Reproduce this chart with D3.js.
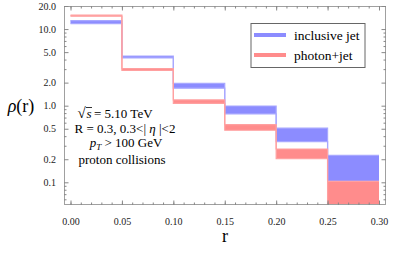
<!DOCTYPE html>
<html>
<head>
<meta charset="utf-8">
<script src="https://cdn.jsdelivr.net/npm/d3@7"></script>
<style>
  body { margin: 0; background: #fff; }
  text { font-family: "Liberation Serif", "Times New Roman", serif; }
</style>
</head>
<body>
<div></div>
<script>
// bin edges in r
const binEdges = [0, 0.05, 0.10, 0.15, 0.20, 0.25, 0.30]
// inclusive jet band (low / high)
const inclusiveLow = [11.8, 4.2, 1.69, 0.78, 0.34, 0.103]
const inclusiveHigh = [12.9, 4.45, 1.96, 0.99, 0.51, 0.225]
// photon+jet band (low / high)
const photonLow = [14.7, 2.88, 1.07, 0.478, 0.203, 0.03]
const photonHigh = [15.2, 3.04, 1.19, 0.565, 0.272, 0.103]

const xTicks = [0, 0.05, 0.10, 0.15, 0.20, 0.25, 0.30]
const xTickLabels = ['0.00', '0.05', '0.10', '0.15', '0.20', '0.25', '0.30']
const yTicks = [0.1, 0.2, 0.5, 1, 2, 5, 10, 20]
const yTickLabels = ['0.1', '0.2', '0.5', '1.0', '2.0', '5.0', '10.0', '20.0']
const yMinorTicks = [0.06, 0.07, 0.08, 0.09, 0.3, 0.4, 0.6, 0.7, 0.8, 0.9, 3, 4, 6, 7, 8, 9]

const seriesNames = ['inclusive jet', 'photon+jet']

const width = 407
const height = 254
const frame = { left: 64, right: 386, top: 6, bottom: 205 }

const blueFill = '#8c8cff'
const blueEdge = '#a8a8ff'
const redFill = '#ff8c8c'
const redEdge = '#ffa0a0'
const frameColor = '#a0a0a0'

const svg = d3.select('div')
  .append('svg')
  .attr('width', width)
  .attr('height', height)
  .attr('font-family', '"Liberation Serif", serif')

const x = d3.scaleLinear()
  .domain([0, 0.30])
  .range([70.5, 379])

const y = d3.scaleLog()
  .domain([0.1, 20])
  .range([182.3, 6])

svg.append('clipPath')
  .attr('id', 'plot-clip')
  .append('rect')
  .attr('x', frame.left)
  .attr('y', frame.top)
  .attr('width', frame.right - frame.left)
  .attr('height', frame.bottom - frame.top)

// step data: last point repeats last bin value at the right edge
function stepData(lo, hi) {
  const pts = lo.map((v, i) => ({ r: binEdges[i], lo: v, hi: hi[i] }))
  pts.push({ r: binEdges[binEdges.length - 1], lo: lo[lo.length - 1], hi: hi[hi.length - 1] })
  return pts
}

const area = d3.area()
  .x(d => x(d.r))
  .y0(d => y(d.lo))
  .y1(d => y(d.hi))
  .curve(d3.curveStepAfter)

const lineHi = d3.line().x(d => x(d.r)).y(d => y(d.hi)).curve(d3.curveStepAfter)
const lineLo = d3.line().x(d => x(d.r)).y(d => y(d.lo)).curve(d3.curveStepAfter)

const plot = svg.append('g').attr('clip-path', 'url(#plot-clip)')

const series = [
  { data: stepData(inclusiveLow, inclusiveHigh), fill: blueFill, edge: blueEdge },
  { data: stepData(photonLow, photonHigh), fill: redFill, edge: redEdge }
]

series.forEach(s => {
  plot.append('path')
    .attr('d', area(s.data))
    .attr('fill', s.fill)
  plot.append('path')
    .attr('d', lineHi(s.data))
    .attr('fill', 'none')
    .attr('stroke', s.edge)
    .attr('stroke-width', 1.2)
  plot.append('path')
    .attr('d', lineLo(s.data))
    .attr('fill', 'none')
    .attr('stroke', s.edge)
    .attr('stroke-width', 1.2)
})

// frame
svg.append('rect')
  .attr('x', frame.left + 0.5)
  .attr('y', frame.top + 0.5)
  .attr('width', frame.right - frame.left - 1)
  .attr('height', frame.bottom - frame.top - 1)
  .attr('fill', 'none')
  .attr('stroke', frameColor)
  .attr('stroke-width', 1)

// axes with inward ticks
const xMinor = d3.range(0, 0.3005, 0.01)

function styleAxis(g) {
  g.attr('font-family', null)
  g.select('.domain').remove()
  g.selectAll('line').attr('stroke', '#888')
  g.selectAll('text')
    .attr('fill', '#222')
    .style('font-size', '10px')
    .style('font-family', '"Liberation Serif", serif')
}

// bottom
svg.append('g')
  .attr('transform', `translate(0, ${frame.bottom})`)
  .call(d3.axisBottom(x).tickValues(xMinor).tickSize(-2.5).tickFormat(''))
  .call(styleAxis)
svg.append('g')
  .attr('transform', `translate(0, ${frame.bottom})`)
  .call(d3.axisBottom(x).tickValues(xTicks).tickSize(-4.5).tickPadding(13)
    .tickFormat((d, i) => xTickLabels[i]))
  .call(styleAxis)

// top
svg.append('g')
  .attr('transform', `translate(0, ${frame.top})`)
  .call(d3.axisTop(x).tickValues(xMinor).tickSize(-2.5).tickFormat(''))
  .call(styleAxis)
svg.append('g')
  .attr('transform', `translate(0, ${frame.top})`)
  .call(d3.axisTop(x).tickValues(xTicks).tickSize(-4.5).tickFormat(''))
  .call(styleAxis)

// left
svg.append('g')
  .attr('transform', `translate(${frame.left}, 0)`)
  .call(d3.axisLeft(y).tickValues(yMinorTicks).tickSize(-2.5).tickFormat(''))
  .call(styleAxis)
svg.append('g')
  .attr('transform', `translate(${frame.left}, 0)`)
  .call(d3.axisLeft(y).tickValues(yTicks).tickSize(-4.5).tickPadding(8)
    .tickFormat((d, i) => yTickLabels[i]))
  .call(styleAxis)

// right
svg.append('g')
  .attr('transform', `translate(${frame.right}, 0)`)
  .call(d3.axisRight(y).tickValues(yMinorTicks).tickSize(-2.5).tickFormat(''))
  .call(styleAxis)
svg.append('g')
  .attr('transform', `translate(${frame.right}, 0)`)
  .call(d3.axisRight(y).tickValues(yTicks).tickSize(-4.5).tickFormat(''))
  .call(styleAxis)

// axis labels
svg.append('text')
  .attr('x', 21)
  .attr('y', 112)
  .attr('text-anchor', 'middle')
  .style('font-size', '18px')
  .html('<tspan font-style="italic">ρ</tspan>(r)')

svg.append('text')
  .attr('x', 225)
  .attr('y', 242)
  .attr('text-anchor', 'middle')
  .style('font-size', '18px')
  .text('r')

// annotation
const note = svg.append('g').style('font-size', '13px')
// radical sign with overline
note.append('text')
  .attr('x', 77.5).attr('y', 118)
  .style('font-size', '15px')
  .text('√')
note.append('line')
  .attr('x1', 86).attr('x2', 92)
  .attr('y1', 107.5).attr('y2', 107.5)
  .attr('stroke', '#000')
  .attr('stroke-width', 0.8)
note.append('text')
  .attr('x', 86.5).attr('y', 117.5)
  .style('font-style', 'italic')
  .text('s')
note.append('text')
  .attr('x', 94).attr('y', 117.5)
  .text('= 5.10 TeV')
note.append('text')
  .attr('x', 125).attr('y', 133)
  .attr('text-anchor', 'middle')
  .html('R = 0.3, 0.3&lt;| <tspan font-style="italic">η</tspan> |&lt;2')
note.append('text')
  .attr('x', 126).attr('y', 147)
  .attr('text-anchor', 'middle')
  .html('<tspan font-style="italic">p</tspan><tspan font-style="italic" font-size="9px" dy="2.5">T</tspan><tspan dy="-2.5"> &gt; 100 GeV</tspan>')
note.append('text')
  .attr('x', 122).attr('y', 163.5)
  .attr('text-anchor', 'middle')
  .text('proton collisions')

// legend
const legend = svg.append('g')
legend.append('rect')
  .attr('x', 251).attr('y', 23.5)
  .attr('width', 114).attr('height', 44)
  .attr('fill', '#fff')
  .attr('stroke', '#666')
  .attr('stroke-width', 1)

const legendColors = [blueFill, redFill]
seriesNames.forEach((name, i) => {
  const ly = 35 + i * 20
  legend.append('line')
    .attr('x1', 254).attr('x2', 286)
    .attr('y1', ly).attr('y2', ly)
    .attr('stroke', legendColors[i])
    .attr('stroke-width', 4)
  legend.append('text')
    .attr('x', 294)
    .attr('y', ly + 4.5)
    .style('font-size', '13.5px')
    .text(name)
})
</script>
</body>
</html>
